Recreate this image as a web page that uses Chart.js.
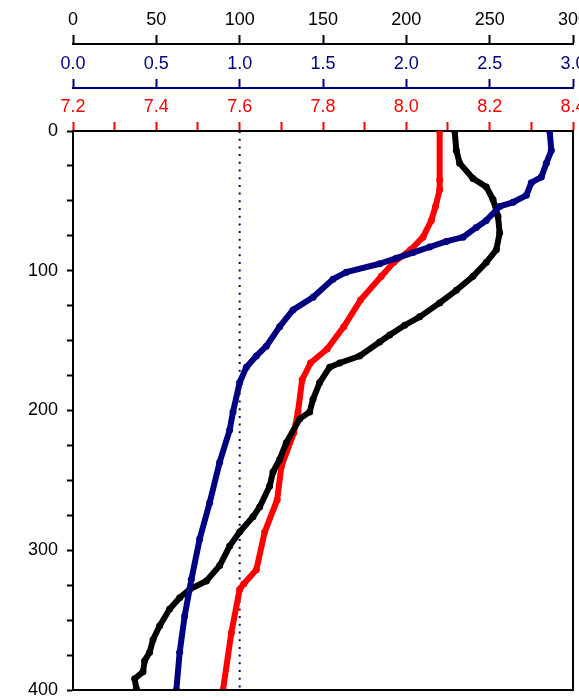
<!DOCTYPE html>
<html>
<head>
<meta charset="utf-8">
<script src="https://cdn.jsdelivr.net/npm/chart.js@4/dist/chart.umd.min.js"></script>
<style>
  html, body { margin: 0; padding: 0; background: #fff; }
  #wrap { width: 579px; height: 698px; position: relative; }
</style>
</head>
<body>
<div id="wrap"><canvas id="perfil"></canvas></div>
<script>
// profundidade (eixo vertical) e valores
const pretoProf = [0,14,23,34,40,49,61,73,85,94,104,114,123,133,139,146,151,161,166,169,180,192,201,206,223,235,244,254,269,276,287,297,311,322,328,334,342,354,364,373,379,387,392,399];
const pretoVal  = [229,230,232,240,248,252,255,256,254,248,240,230,220,208,199,190,184,172,160,154,148,144,142,136,128,124,120,118,112,108,100,94,88,80,70,64,58,52,48,46,43,42,37,38];

const azulProf = [0,14,23,33,37,46,51,54,64,69,76,79,83,87,91,95,101,106,119,128,140,154,161,169,180,201,214,237,266,292,321,347,373,400];
const azulVal  = [2.86,2.87,2.84,2.81,2.75,2.72,2.64,2.56,2.48,2.42,2.34,2.24,2.14,2.04,1.94,1.84,1.64,1.56,1.44,1.32,1.24,1.16,1.10,1.04,1.00,0.96,0.94,0.88,0.82,0.76,0.71,0.67,0.64,0.62];

const vermProf = [0,35,42,54,64,76,85,94,104,121,140,156,166,178,201,216,240,264,287,314,324,328,359,400];
const vermVal  = [8.08,8.08,8.08,8.07,8.06,8.04,8.01,7.97,7.94,7.89,7.85,7.81,7.77,7.75,7.74,7.73,7.70,7.69,7.66,7.64,7.61,7.60,7.58,7.56];

// linha de referencia (eixo azul)
const refValor = 1.0;
const refProf = [0, 400];

// faixas dos eixos
const pretoEixo = { min: 0, max: 300, passo: 50 };
const azulEixo = { min: 0, max: 3.0, passo: 0.5 };
const vermEixo = { min: 7.2, max: 8.4, passo: 0.1 };
const profEixo = { min: 0, max: 400, passo: 25 };

const PRETO = '#000000';
const AZUL = '#000080';
const VERM = '#ff0000';
const fonte = { family: "'Liberation Sans', Arial, sans-serif", size: 18 };

const pares = (xs, ys) => xs.map((v, i) => ({ x: v, y: ys[i] }));

function topo(altura) {
    return function (scale) {
        scale.height = altura;
        scale.paddingLeft = 0;
        scale.paddingRight = 0;
    };
}

const moldura = {
    id: 'moldura',
    afterDraw(chart) {
        const { ctx, chartArea: a } = chart;
        ctx.save();
        ctx.strokeStyle = PRETO;
        ctx.lineWidth = 2;
        ctx.beginPath();
        ctx.moveTo(a.right, a.top);
        ctx.lineTo(a.right, a.bottom);
        ctx.lineTo(a.left, a.bottom);
        ctx.stroke();
        ctx.restore();
    }
};

const serie = (label, dados, eixo, cor, ordem) => ({
    label, data: dados, xAxisID: eixo, yAxisID: 'y',
    showLine: true, borderColor: cor, backgroundColor: cor,
    borderWidth: 6, pointRadius: 3.5, pointBorderWidth: 0, order: ordem,
    borderJoinStyle: 'round', borderCapStyle: 'round'
});

new Chart(document.getElementById('perfil'), {
    type: 'scatter',
    data: {
        datasets: [
            serie('azul', pares(azulVal, azulProf), 'xb', AZUL, 1),
            serie('preto', pares(pretoVal, pretoProf), 'x', PRETO, 2),
            serie('vermelho', pares(vermVal, vermProf), 'xr', VERM, 3),
            {
                label: 'ref', data: refProf.map(p => ({ x: refValor, y: p })),
                xAxisID: 'xb', yAxisID: 'y', showLine: true,
                borderColor: AZUL, borderWidth: 2, borderDash: [2, 5.7],
                pointRadius: 0, order: 4
            }
        ]
    },
    options: {
        responsive: true,
        maintainAspectRatio: false,
        animation: false,
        layout: { padding: { top: 0, left: 0, right: 6, bottom: 8 } },
        plugins: { legend: { display: false }, tooltip: { enabled: false } },
        scales: {
            x: {
                position: 'top', weight: 2,
                min: pretoEixo.min, max: pretoEixo.max,
                afterFit: topo(44),
                border: { display: true, color: PRETO, width: 2 },
                grid: { drawOnChartArea: false, tickLength: 9, color: PRETO, tickWidth: 2 },
                ticks: { stepSize: pretoEixo.passo, color: PRETO, font: fonte, padding: 4, maxRotation: 0, autoSkip: false }
            },
            xb: {
                position: 'top', weight: 1,
                min: azulEixo.min, max: azulEixo.max,
                afterFit: topo(44),
                border: { display: true, color: AZUL, width: 2 },
                grid: { drawOnChartArea: false, tickLength: 9, color: AZUL, tickWidth: 2 },
                ticks: { stepSize: azulEixo.passo, color: AZUL, font: fonte, padding: 4, maxRotation: 0, autoSkip: false,
                    callback: v => Number(v).toFixed(1) }
            },
            xr: {
                position: 'top', weight: 0,
                min: vermEixo.min, max: vermEixo.max,
                afterFit: topo(43),
                border: { display: true, color: PRETO, width: 2 },
                grid: { drawOnChartArea: false, tickLength: 9, color: VERM, tickWidth: 2 },
                ticks: { stepSize: vermEixo.passo, color: VERM, font: fonte, padding: 4, maxRotation: 0, autoSkip: false,
                    callback: v => (Math.round(v * 10) % 2 === 0 ? Number(v).toFixed(1) : '') }
            },
            y: {
                reverse: true,
                min: profEixo.min, max: profEixo.max,
                afterFit: function (scale) {
                    scale.width = 73;
                    scale.paddingTop = 0;
                    scale.paddingBottom = 0;
                },
                border: { display: true, color: PRETO, width: 2 },
                grid: { drawOnChartArea: false, tickLength: 6, color: PRETO, tickWidth: 2 },
                ticks: { stepSize: profEixo.passo, color: PRETO, font: fonte, padding: 9, autoSkip: false,
                    callback: v => (v % 100 === 0 ? v : '') }
            }
        }
    },
    plugins: [moldura]
});
</script>
</body>
</html>
